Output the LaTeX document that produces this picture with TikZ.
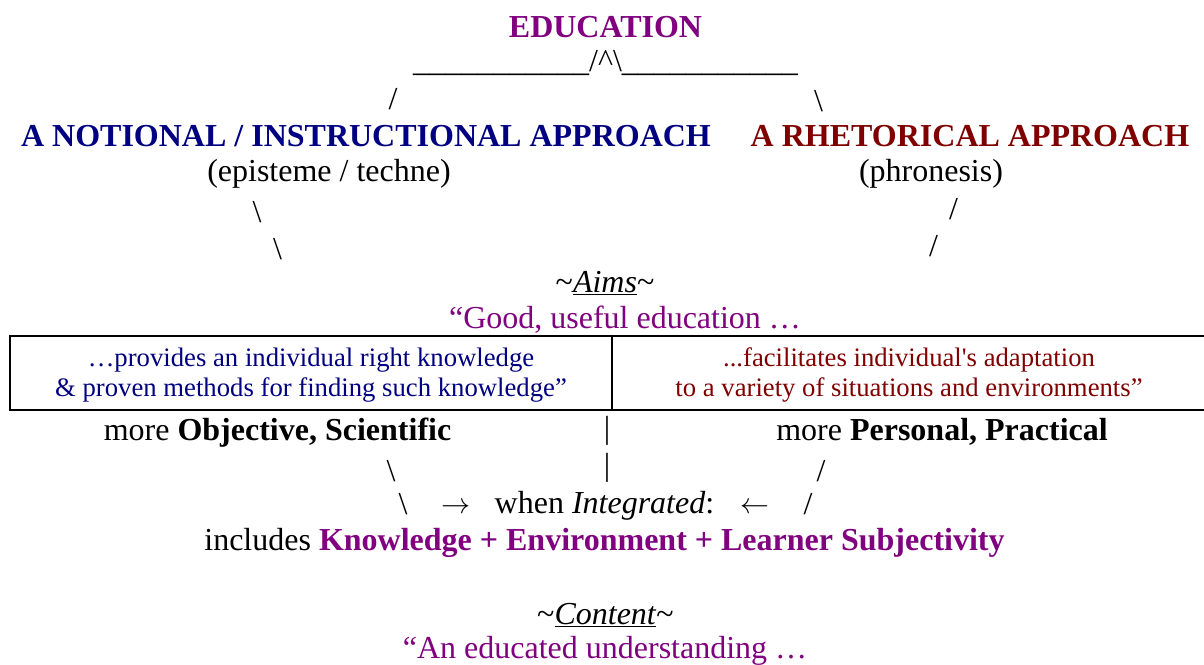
\documentclass[tikz,border=0pt]{standalone}
\usepackage{fix-cm}
\usepackage{fontspec}
\setmainfont{Liberation Serif}
\definecolor{purp}{HTML}{800080}
\definecolor{navyc}{HTML}{000080}
\definecolor{maroonc}{HTML}{800000}
\newcommand\fbig{\fontsize{32}{38}\selectfont}
\newcommand\fsmall{\fontsize{26.7}{30}\selectfont}
\newcommand\farrow{\fontsize{29}{32}\selectfont}
\tikzset{
  txt/.style={anchor=base, inner sep=0pt, font=\fbig},
  boxtxt/.style={anchor=base, inner sep=0pt, font=\fsmall},
  boxline/.style={line width=1.3pt, black}
}
\begin{document}
\begin{tikzpicture}[x=1pt, y=-1pt]
\useasboundingbox (0,0) rectangle (1204,664);
\node[txt, font=\fbig\bfseries, text=purp] (edu) at (605.5,37) {EDUCATION};
\node[txt] (bar) at (605.5,71) {\_\_\_\_\_\_\_\_\_\_\_/\textasciicircum\textbackslash\_\_\_\_\_\_\_\_\_\_\_};
\node[txt] (s1) at (393,109) {/};
\node[txt] (s2) at (818.5,111) {\textbackslash};
\node[txt, font=\fbig\bfseries, text=navyc] (notional) at (366,146) {A NOTIONAL / INSTRUCTIONAL APPROACH};
\node[txt, font=\fbig\bfseries, text=maroonc] (rhet) at (970,146) {A RHETORICAL APPROACH};
\node[txt] (episteme) at (329,181) {(episteme / techne)};
\node[txt] (phron) at (931,181) {(phronesis)};
\node[txt] (s3) at (257,222) {\textbackslash};
\node[txt] (s4) at (277.5,259) {\textbackslash};
\node[txt] (s5) at (953.5,219) {/};
\node[txt] (s6) at (933.5,256) {/};
\node[txt] (aims) at (605,292) {\textasciitilde\underline{\textit{Aims}}\textasciitilde};
\node[txt, text=purp] (good) at (625,328) {“Good, useful education …};
\draw[boxline] (10,336) rectangle (1207,410);
\draw[boxline] (612,336) -- (612,410);
\node[boxtxt, text=navyc] (l1) at (311,366) {…provides an individual right knowledge};
\node[boxtxt, text=navyc] (l2) at (311,396) {\& proven methods for finding such knowledge”};
\node[boxtxt, text=maroonc] (r1) at (909,366) {...facilitates individual\textquotesingle s adaptation};
\node[boxtxt, text=maroonc] (r2) at (909,396) {to a variety of situations and environments”};
\node[txt] (obj) at (277.5,440) {more \textbf{Objective, Scientific}};
\node[txt] (bar1) at (607,438) {|};
\node[txt] (pers) at (942,440) {more \textbf{Personal, Practical}};
\node[txt] (s7) at (391,481) {\textbackslash};
\node[txt] (bar2) at (607,475) {|};
\node[txt] (s8) at (821,481) {/};
\node[txt] (s9) at (403,514) {\textbackslash};
\node[txt, font=\farrow] (arr1) at (456,513) {$\rightarrow$};
\node[txt] (when) at (604.5,513) {when \textit{Integrated}:};
\node[txt, font=\farrow] (arr2) at (754.5,513) {$\leftarrow$};
\node[txt] (s10) at (808,514) {/};
\node[txt] (incl) at (604.5,550) {includes {\bfseries\color{purp}Knowledge + Environment + Learner Subjectivity}};
\node[txt] (content) at (605.5,624) {\textasciitilde\underline{\textit{Content}}\textasciitilde};
\node[txt, text=purp] (educ) at (605,658) {“An educated understanding …};
\end{tikzpicture}
\end{document}
